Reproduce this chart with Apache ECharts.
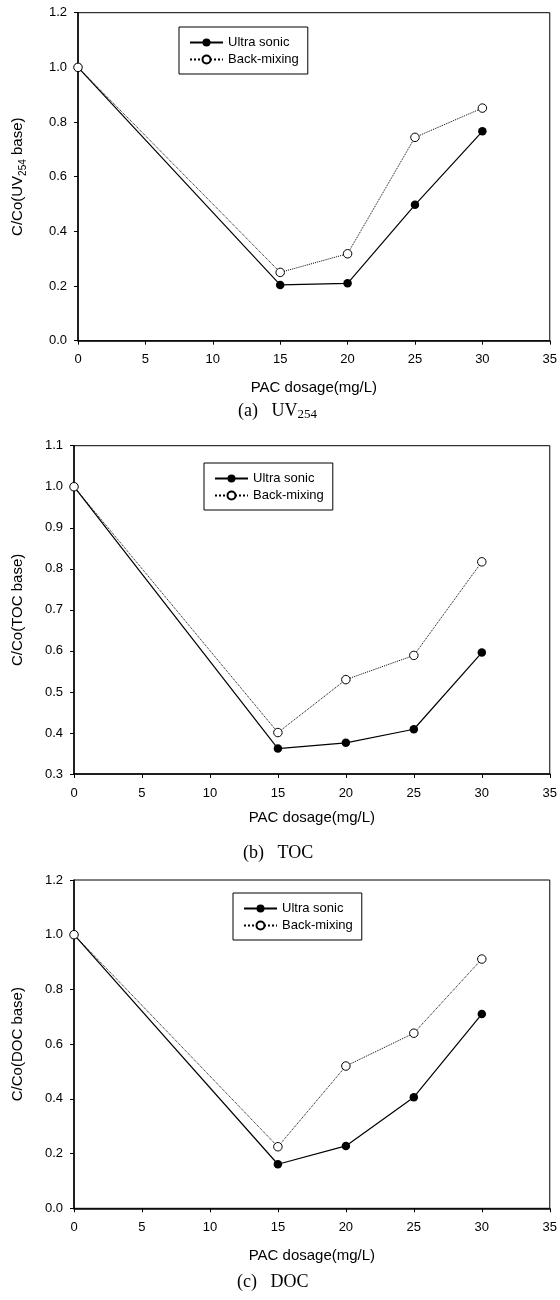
<!DOCTYPE html>
<html>
<head>
<meta charset="utf-8">
<script src="https://cdn.jsdelivr.net/npm/echarts@6/dist/echarts.min.js"></script>
<style>
  html, body { margin: 0; padding: 0; background: #fff; }
  #chart { width: 560px; height: 1300px; }
</style>
</head>
<body>
<div id="chart"></div>
<script>
// PAC dosage (mg/L)
const dosage = [0, 15, 20, 25, 30]
const seriesNames = ['Ultra sonic', 'Back-mixing']

// (a) UV254
const uvUltra = [1.0, 0.204, 0.210, 0.497, 0.766]
const uvBack = [1.0, 0.250, 0.318, 0.744, 0.851]
// (b) TOC
const tocUltra = [1.0, 0.362, 0.376, 0.409, 0.596]
const tocBack = [1.0, 0.401, 0.530, 0.589, 0.817]
// (c) DOC
const docUltra = [1.0, 0.161, 0.228, 0.406, 0.710]
const docBack = [1.0, 0.225, 0.520, 0.640, 0.911]

const yNames = ['C/Co(UV{sub|254} base)', 'C/Co(TOC base)', 'C/Co(DOC base)']
const xName = 'PAC dosage(mg/L)'
const captions = ['(a)   UV{sub|254}', '(b)   TOC', '(c)   DOC']
const yRanges = [[0, 1.2, 0.2], [0.3, 1.1, 0.1], [0, 1.2, 0.2]]

const panels = [
  { ultra: uvUltra, back: uvBack, grid: { left: 69.5, top: 12.7, width: 480.5, height: 328 }, legend: { left: 179, top: 27 }, caption: [238, 411], xGap: 40, yGap: 50, xMargin: 12 },
  { ultra: tocUltra, back: tocBack, grid: { left: 69.3, top: 445.7, width: 482.5, height: 328.3 }, legend: { left: 204, top: 463 }, caption: [243, 853], xGap: 36, yGap: 46, xMargin: 13 },
  { ultra: docUltra, back: docBack, grid: { left: 72.3, top: 880, width: 483.7, height: 328.3 }, legend: { left: 233, top: 893 }, caption: [237, 1282], xGap: 40, yGap: 46, xMargin: 13 }
]

const SANS = '"Liberation Sans", Arial, sans-serif'
const SERIF = '"Liberation Serif", "Times New Roman", serif'

const chart = echarts.init(document.getElementById('chart'), null, { renderer: 'canvas' })

const option = {
  backgroundColor: '#fff',
  animation: false,
  grid: [],
  xAxis: [],
  yAxis: [],
  legend: [],
  series: [],
  graphic: []
}

panels.forEach((p, i) => {
  option.grid.push(Object.assign({ show: true, borderColor: '#000', borderWidth: 1, backgroundColor: 'transparent' }, p.grid))

  option.xAxis.push({
    type: 'value',
    gridIndex: i,
    min: 0,
    max: 35,
    interval: 5,
    name: xName,
    nameLocation: 'middle',
    nameGap: p.xGap,
    nameTextStyle: { fontFamily: SANS, fontSize: 15, color: '#000' },
    axisLine: { onZero: false, lineStyle: { color: '#000', width: 1.5 } },
    axisTick: { inside: false, length: 4, lineStyle: { color: '#000' } },
    axisLabel: { margin: p.xMargin, fontFamily: SANS, fontSize: 13, color: '#000' },
    splitLine: { show: false }
  })

  const r = yRanges[i]
  option.yAxis.push({
    type: 'value',
    gridIndex: i,
    min: r[0],
    max: r[1],
    interval: r[2],
    name: yNames[i],
    nameLocation: 'middle',
    nameGap: p.yGap,
    nameRotate: 90,
    nameTextStyle: {
      fontFamily: SANS, fontSize: 15, color: '#000', lineHeight: 20,
      rich: { sub: { fontFamily: SANS, fontSize: 10, lineHeight: 10, verticalAlign: 'bottom', color: '#000' } }
    },
    axisLine: { onZero: false, lineStyle: { color: '#000', width: 1.5 } },
    axisTick: { inside: false, length: 4, lineStyle: { color: '#000' } },
    axisLabel: { margin: 11, fontFamily: SANS, fontSize: 13, color: '#000', formatter: v => v.toFixed(1) },
    splitLine: { show: false }
  })

  option.legend.push(Object.assign({
    orient: 'vertical',
    data: seriesNames,
    borderColor: '#000',
    borderWidth: 1,
    padding: [9, 9, 8, 10],
    itemWidth: 33,
    itemHeight: 10,
    itemGap: 4,
    textStyle: { fontFamily: SANS, fontSize: 13, color: '#000' },
    selectedMode: false
  }, p.legend))

  option.series.push({
    name: seriesNames[0],
    type: 'line',
    xAxisIndex: i,
    yAxisIndex: i,
    data: dosage.map((x, k) => [x, p.ultra[k]]),
    symbol: 'circle',
    symbolSize: 8.5,
    itemStyle: { color: '#000' },
    lineStyle: { color: '#000', width: 1.2, type: 'solid' },
    clip: false
  })
  option.series.push({
    name: seriesNames[1],
    type: 'line',
    xAxisIndex: i,
    yAxisIndex: i,
    data: dosage.map((x, k) => [x, p.back[k]]),
    symbol: 'circle',
    symbolSize: 8.5,
    itemStyle: { color: '#fff', borderColor: '#000', borderWidth: 1 },
    lineStyle: { color: '#000', width: 1, type: 'dotted' },
    clip: false
  })

  option.graphic.push({
    type: 'text',
    left: p.caption[0],
    top: p.caption[1] - 10,
    style: {
      text: captions[i],
      fontFamily: SERIF,
      fontSize: 18,
      fill: '#000',
      lineHeight: 20,
      rich: { sub: { fontFamily: SERIF, fontSize: 13, lineHeight: 13, verticalAlign: 'bottom', fill: '#000' } }
    }
  })
})

chart.setOption(option)
window.addEventListener('resize', () => chart.resize())
</script>
</body>
</html>
